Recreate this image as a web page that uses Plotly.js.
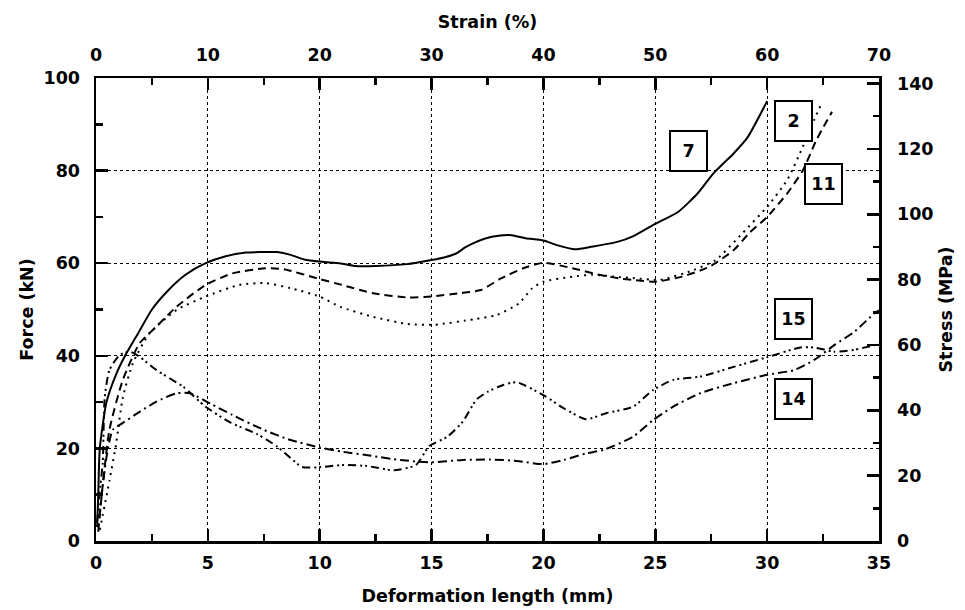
<!DOCTYPE html>
<html><head><meta charset="utf-8">
<script src="https://cdn.plot.ly/plotly-3.0.1.min.js"></script>
<style>html,body{margin:0;padding:0;background:#fff}#chart{width:965px;height:610px}</style>
</head><body><div id="chart"></div>
<script>
// Specimen 7 (solid)
const x7 = [0.05,0.1,0.17,0.47,0.9,1.3,1.9,2.5,3.2,4.0,4.9,5.8,6.7,7.4,8.1,8.7,9.3,10.1,10.9,11.6,12.5,13.9,15.0,15.6,16.1,16.5,16.9,17.7,18.5,19.2,20.0,20.6,21.4,22.2,23.3,24.0,25.0,26.0,26.9,27.6,28.5,29.1,30.0];
const y7 = [3,10,20,30,36,40,45,50,54,57.5,60,61.5,62.3,62.4,62.4,61.8,60.8,60.3,60.0,59.4,59.4,59.8,60.7,61.3,62.1,63.4,64.4,65.7,66.1,65.4,64.9,63.9,63.0,63.6,64.6,65.8,68.5,71.0,75.1,79.4,83.7,87.0,95.0];
// Specimen 11 (dashed)
const x11 = [0.1,0.3,0.6,1.2,1.95,2.7,3.6,4.9,6.1,7.6,8.4,9.9,11.0,12.4,13.9,15.0,16.2,17.2,18.1,19.1,20.0,21.3,22.5,23.4,24.0,25.0,26.2,27.4,28.5,29.2,30.0,30.9,31.6,32.2,32.9];
const y11 = [2,12,24,34.8,42.7,46.3,50.6,55.3,57.8,58.9,58.7,56.7,55.3,53.5,52.6,52.8,53.5,54.2,56.7,58.9,60.1,58.9,57.5,56.7,56.4,56.0,57.1,59.2,62.8,66.5,70.0,75.1,80.1,86.6,92.7];
// Specimen 2 (dotted)
const x2 = [0.17,0.6,0.9,1.2,1.65,2.4,3.6,4.9,6.4,7.6,8.7,10.0,10.9,12.4,13.9,15.1,16.9,17.9,18.9,19.5,20.0,21.3,22.2,23.4,24.0,25.2,26.7,27.7,28.9,30.0,30.9,31.6,32.1,32.4];
const y2 = [2.4,13,21,31,38.4,44.9,49.9,52.8,55.3,55.7,54.6,52.8,50.6,48.4,46.9,46.7,47.9,48.8,51.3,54.6,56.0,57.1,57.5,57.0,56.8,56.4,58.5,60.7,66.5,72.2,78.0,85.2,90.9,94.2];
// Specimen 15 (dash-dot-dot)
const x15 = [0.05,0.15,0.3,0.39,0.6,1.06,1.5,1.95,2.7,3.9,4.9,6.0,7.2,8.1,8.7,9.2,9.9,11.0,12.1,13.3,14.3,14.9,15.7,16.4,17.0,17.5,18.2,18.8,20.0,20.9,21.9,22.8,24.0,24.9,25.8,27.0,28.5,30.0,31.5,32.1,33.0,33.9,34.8,35.0];
const y15 = [4,10,16.8,31,36.9,40.2,40.9,39.8,36.9,33.3,29.0,25.6,23.1,20.4,17.9,16.0,15.9,16.4,16.2,15.3,16.4,20.5,22.5,25.8,30.5,32.2,33.7,34.3,31.5,28.7,26.3,27.6,29.0,32.6,34.8,35.5,37.6,39.7,41.8,41.8,40.9,41.3,42.3,42.5];
// Specimen 14 (dash-dot)
const x14 = [0.15,0.3,0.5,0.75,1.2,1.95,2.7,3.6,4.2,5.1,6.1,7.5,8.7,10.0,11.0,12.3,13.6,14.9,16.4,17.6,18.8,20.0,20.9,21.9,22.7,24.0,24.9,25.8,27.0,28.5,30.0,31.2,32.1,33.0,33.9,34.8,35.0];
const y14 = [5,12,19,24,25.5,27.9,30.1,31.9,31.9,29.7,27.2,24.0,21.8,20.2,19.3,18.4,17.5,17.0,17.5,17.6,17.3,16.6,17.5,18.9,19.7,22.5,26.1,29.0,31.9,34.1,35.9,36.9,39.1,42.3,45.2,49.2,49.8];

const labelText = ["7","2","11","15","14"];
const labelX = [26.5,31.2,32.5,31.2,31.2];
const labelY = [84.2,90.7,77.2,47.9,30.6];

const xTop = [0,70];
const yRight = [0,141.7];

const F = "DejaVu Sans, Verdana, sans-serif";
const tf = {family:F,size:17.5,color:"#000",weight:"bold"};

function tr(x,y,dash){
  return {x:x,y:y,mode:"lines",type:"scatter",hoverinfo:"skip",showlegend:false,
    line:{color:"#000",width:2,dash:dash,shape:"spline",smoothing:0.6}};
}
const data = [
  tr(x7,y7,"solid"),
  tr(x11,y11,"8px,5px"),
  tr(x2,y2,"2px,5px"),
  tr(x15,y15,"8px,4px,2px,3px,2px,4px"),
  tr(x14,y14,"9px,4px,2px,4px"),
  {x:xTop,y:yRight,xaxis:"x2",yaxis:"y2",mode:"lines",line:{width:0,color:"rgba(0,0,0,0)"},hoverinfo:"skip",showlegend:false}
];

const annotations = labelText.map((t,i)=>({x:labelX[i],y:labelY[i],xref:"x",yref:"y",text:t,showarrow:false,
  font:tf,bordercolor:"#000",borderwidth:2,borderpad:2,bgcolor:"#fff",width:31,height:34}));

const common = {ticks:"inside",ticklen:12,tickwidth:2.5,tickcolor:"#000",showline:true,linewidth:2.5,linecolor:"#000",
  tickfont:tf,zeroline:false};
const layout = {
  width:965,height:610,margin:{l:96,r:86,t:78,b:69},
  paper_bgcolor:"#fff",plot_bgcolor:"#fff",font:{family:F,color:"#000"},
  xaxis:Object.assign({},common,{range:[0,35],dtick:5,tick0:0,showgrid:true,gridcolor:"#000",gridwidth:1,griddash:"dot",
    ticklabelstandoff:4,
    minor:{dtick:2.5,ticks:"inside",ticklen:7,tickwidth:2.5,tickcolor:"#000",showgrid:false},
    title:{text:"Deformation length (mm)",font:tf,standoff:18}}),
  xaxis2:Object.assign({},common,{range:xTop,dtick:10,tick0:0,overlaying:"x",side:"top",showgrid:false,
    ticklabelstandoff:8,
    minor:{dtick:5,ticks:"inside",ticklen:7,tickwidth:2.5,tickcolor:"#000"},
    title:{text:"Strain (%)",font:tf,standoff:12}}),
  yaxis:Object.assign({},common,{range:[0,100],dtick:20,tick0:0,showgrid:true,gridcolor:"#000",gridwidth:1,griddash:"dot",
    ticklabelstandoff:10,
    minor:{dtick:10,ticks:"inside",ticklen:7,tickwidth:2.5,tickcolor:"#000",showgrid:false},
    title:{text:"Force (kN)",font:tf,standoff:6}}),
  yaxis2:Object.assign({},common,{range:yRight,dtick:20,tick0:0,overlaying:"y",side:"right",showgrid:false,
    ticklabelstandoff:12,
    minor:{dtick:10,ticks:"inside",ticklen:6,tickwidth:2.5,tickcolor:"#000"},
    title:{text:"Stress (MPa)",font:tf,standoff:7}}),
  annotations:annotations
};
Plotly.newPlot("chart",data,layout,{staticPlot:true,displayModeBar:false});
</script></body></html>
